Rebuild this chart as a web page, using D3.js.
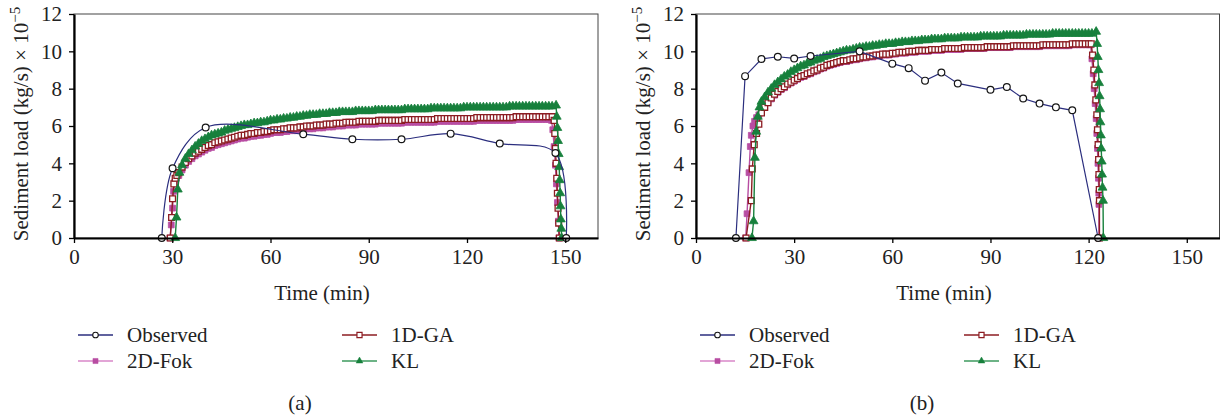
<!DOCTYPE html>
<html>
<head>
<meta charset="utf-8">
<script src="https://cdn.jsdelivr.net/npm/d3@7"></script>
<style>
    body { margin: 0; background: #fff; }
    svg text { font-family: "Liberation Serif", "Times New Roman", serif; fill: #222; }
</style>
</head>
<body>
<svg id="chart" width="1221" height="417"></svg>
<script>
// Tick labels
let xTicks = [0, 30, 60, 90, 120, 150];
let yTicks = [0, 2, 4, 6, 8, 10, 12];
let seriesNames = ["Observed", "1D-GA", "2D-Fok", "KL"];

// ---- Panel (a) ----
let obsATime = [26.8, 30.1, 40.2, 70, 85, 100, 115, 130, 147, 150.3];
let obsAVals = [0, 3.74, 5.92, 5.56, 5.29, 5.29, 5.59, 5.06, 4.55, 0];

// 1D-GA: rise points, one value per minute from gaAStart, fall points
let gaARise = [[29.4, 0], [29.8, 1.1], [30.1, 2.1], [30.5, 2.9], [30.9, 3.2], [31.4, 3.35]];
let gaAStart = 32;
let gaAVals = [
    3.5, 3.8, 4.05, 4.25, 4.4, 4.55, 4.65, 4.75, 4.85, 4.95,
    5.0, 5.1, 5.15, 5.2, 5.25, 5.3, 5.35, 5.4, 5.45, 5.5,
    5.5, 5.55, 5.6, 5.6, 5.65, 5.65, 5.7, 5.7, 5.75, 5.8,
    5.8, 5.8, 5.85, 5.85, 5.9, 5.9, 5.9, 5.95, 5.95, 6.0,
    6.0, 6.0, 6.05, 6.05, 6.05, 6.1, 6.1, 6.1, 6.15, 6.15,
    6.15, 6.2, 6.2, 6.2, 6.2, 6.25, 6.25, 6.25, 6.25, 6.25,
    6.25, 6.3, 6.3, 6.3, 6.3, 6.3, 6.3, 6.3, 6.3, 6.35,
    6.35, 6.35, 6.35, 6.35, 6.35, 6.35, 6.35, 6.35, 6.35, 6.4,
    6.4, 6.4, 6.4, 6.4, 6.4, 6.4, 6.4, 6.4, 6.4, 6.4,
    6.4, 6.45, 6.45, 6.45, 6.45, 6.45, 6.45, 6.45, 6.45, 6.45,
    6.45, 6.45, 6.45, 6.5, 6.5, 6.5, 6.5, 6.5, 6.5, 6.5,
    6.5, 6.5, 6.5, 6.5, 6.5
];
let gaAFall = [[146.6, 6.3], [146.8, 5.6], [147.0, 4.8], [147.2, 4.0], [147.4, 3.2], [147.6, 2.4], [147.8, 1.6], [148.0, 0.8], [148.2, 0]];

let fokARise = [[29.3, 0], [29.7, 0.7], [30.1, 1.6], [30.4, 2.5], [30.8, 3.0], [31.3, 3.2]];
let fokAStart = 32;
let fokAVals = [
    3.35, 3.65, 3.9, 4.1, 4.25, 4.4, 4.5, 4.6, 4.7, 4.8,
    4.85, 4.95, 5.0, 5.05, 5.1, 5.15, 5.2, 5.25, 5.3, 5.35,
    5.35, 5.4, 5.45, 5.45, 5.5, 5.5, 5.55, 5.55, 5.6, 5.65,
    5.65, 5.65, 5.7, 5.7, 5.75, 5.75, 5.75, 5.8, 5.8, 5.85,
    5.85, 5.85, 5.9, 5.9, 5.9, 5.95, 5.95, 5.95, 6.0, 6.0,
    6.0, 6.05, 6.05, 6.05, 6.05, 6.1, 6.1, 6.1, 6.1, 6.1,
    6.1, 6.15, 6.15, 6.15, 6.15, 6.15, 6.15, 6.15, 6.15, 6.2,
    6.2, 6.2, 6.2, 6.2, 6.2, 6.2, 6.2, 6.2, 6.2, 6.25,
    6.25, 6.25, 6.25, 6.25, 6.25, 6.25, 6.25, 6.25, 6.25, 6.25,
    6.25, 6.3, 6.3, 6.3, 6.3, 6.3, 6.3, 6.3, 6.3, 6.3,
    6.3, 6.3, 6.3, 6.35, 6.35, 6.35, 6.35, 6.35, 6.35, 6.35,
    6.35, 6.35, 6.35, 6.35
];
let fokAFall = [[145.8, 6.3], [146.2, 5.8], [146.6, 4.9], [147.0, 3.9], [147.3, 2.9], [147.6, 1.9], [147.9, 0.9], [148.1, 0]];

let klARise = [[30.9, 0], [31.3, 1.1], [31.7, 2.6], [32.2, 3.5]];
let klAStart = 33;
let klAVals = [
    3.9, 4.25, 4.5, 4.7, 4.9, 5.05, 5.2, 5.3, 5.4, 5.5,
    5.55, 5.6, 5.65, 5.75, 5.8, 5.85, 5.9, 5.95, 6.0, 6.05,
    6.05, 6.1, 6.15, 6.15, 6.2, 6.2, 6.25, 6.3, 6.3, 6.35,
    6.35, 6.4, 6.4, 6.45, 6.45, 6.5, 6.5, 6.55, 6.55, 6.6,
    6.6, 6.6, 6.65, 6.65, 6.65, 6.7, 6.7, 6.7, 6.75, 6.75,
    6.75, 6.75, 6.75, 6.8, 6.8, 6.8, 6.8, 6.8, 6.8, 6.85,
    6.85, 6.85, 6.85, 6.85, 6.85, 6.85, 6.85, 6.85, 6.9, 6.9,
    6.9, 6.9, 6.9, 6.9, 6.9, 6.9, 6.95, 6.95, 6.95, 6.95,
    6.95, 6.95, 6.95, 6.95, 6.95, 6.95, 7.0, 7.0, 7.0, 7.0,
    7.0, 7.0, 7.0, 7.0, 7.0, 7.0, 7.0, 7.0, 7.0, 7.0,
    7.05, 7.05, 7.05, 7.05, 7.05, 7.05, 7.05, 7.05, 7.05, 7.05,
    7.05, 7.05, 7.05, 7.05
];
let klAFall = [[147.2, 7.1], [147.4, 6.5], [147.6, 5.9], [147.8, 5.2], [148.0, 4.5], [148.15, 3.8], [148.3, 3.1], [148.45, 2.4], [148.55, 1.7], [148.65, 1.0], [148.8, 0.5], [148.9, 0]];

// ---- Panel (b) ----
let obsBTime = [12.2, 15, 20, 25, 30, 35, 50, 60, 65, 70, 75, 80, 90, 95, 100, 105, 110, 115, 122.9];
let obsBVals = [0, 8.67, 9.59, 9.71, 9.62, 9.75, 10.0, 9.34, 9.1, 8.43, 8.86, 8.28, 7.94, 8.09, 7.47, 7.2, 7.0, 6.84, 0];

let gaBRise = [[15.3, 0], [16.9, 2.0], [17.2, 3.7], [17.8, 5.0], [18.5, 5.6], [19.2, 6.1]];
let gaBStart = 20;
let gaBVals = [
    6.7, 7.0, 7.25, 7.5, 7.7, 7.85, 8.0, 8.1, 8.25, 8.35,
    8.45, 8.55, 8.65, 8.7, 8.8, 8.85, 8.95, 9.0, 9.1, 9.15,
    9.25, 9.3, 9.35, 9.4, 9.45, 9.5, 9.5, 9.55, 9.6, 9.6,
    9.65, 9.7, 9.7, 9.75, 9.75, 9.8, 9.8, 9.85, 9.85, 9.85,
    9.9, 9.9, 9.95, 9.95, 9.95, 10.0, 10.0, 10.0, 10.05, 10.05,
    10.05, 10.05, 10.1, 10.1, 10.1, 10.1, 10.15, 10.15, 10.15, 10.15,
    10.15, 10.15, 10.2, 10.2, 10.2, 10.2, 10.2, 10.2, 10.2, 10.25,
    10.25, 10.25, 10.25, 10.25, 10.25, 10.25, 10.25, 10.3, 10.3, 10.3,
    10.3, 10.3, 10.3, 10.3, 10.3, 10.3, 10.35, 10.35, 10.35, 10.35,
    10.35, 10.35, 10.35, 10.35, 10.35, 10.4, 10.4, 10.4, 10.4, 10.4,
    10.4
];
let gaBFall = [[120.8, 10.4], [121.2, 9.8], [121.6, 9.0], [121.9, 8.2], [122.2, 7.4], [122.5, 6.6], [122.7, 5.8], [122.9, 5.0], [123.05, 4.2], [123.15, 3.4], [123.25, 2.6], [123.3, 2.0], [123.3, 0]];

let fokBRise = [[15.2, 0], [15.6, 1.3], [16.2, 3.5], [16.6, 4.9], [16.9, 5.5], [17.4, 6.0], [17.9, 6.25], [18.5, 6.45], [19.2, 6.6]];
let fokBStart = 20;
let fokBVals = [
    6.8, 7.05, 7.25, 7.45, 7.65, 7.8, 7.95, 8.05, 8.2, 8.3,
    8.4, 8.5, 8.6, 8.65, 8.75, 8.8, 8.9, 8.95, 9.05, 9.1,
    9.2, 9.25, 9.3, 9.35, 9.4, 9.45, 9.45, 9.5, 9.55, 9.55,
    9.6, 9.65, 9.65, 9.7, 9.7, 9.75, 9.75, 9.8, 9.8, 9.8,
    9.85, 9.85, 9.9, 9.9, 9.9, 9.95, 9.95, 9.95, 10.0, 10.0,
    10.0, 10.0, 10.05, 10.05, 10.05, 10.05, 10.1, 10.1, 10.1, 10.1,
    10.1, 10.1, 10.15, 10.15, 10.15, 10.15, 10.15, 10.15, 10.15, 10.2,
    10.2, 10.2, 10.2, 10.2, 10.2, 10.2, 10.2, 10.25, 10.25, 10.25,
    10.25, 10.25, 10.25, 10.25, 10.25, 10.25, 10.3, 10.3, 10.3, 10.3,
    10.3, 10.3, 10.3, 10.3, 10.3, 10.35, 10.35, 10.35, 10.35, 10.35,
    10.35
];
let fokBFall = [[120.6, 10.35], [121.0, 9.6], [121.4, 8.8], [121.7, 8.0], [122.0, 7.2], [122.3, 6.4], [122.5, 5.6], [122.7, 4.8], [122.85, 4.0], [123.0, 3.2], [123.1, 2.4], [123.15, 1.8], [123.15, 0]];

let klBRise = [[17.1, 0], [17.6, 0.9], [18.0, 4.3], [18.4, 5.7], [18.9, 6.5], [19.4, 7.0]];
let klBStart = 20;
let klBVals = [
    7.3, 7.55, 7.8, 8.0, 8.2, 8.35, 8.5, 8.65, 8.75, 8.9,
    9.0, 9.1, 9.2, 9.25, 9.35, 9.4, 9.5, 9.55, 9.6, 9.7,
    9.75, 9.8, 9.85, 9.9, 9.95, 10.0, 10.05, 10.05, 10.1, 10.15,
    10.2, 10.2, 10.25, 10.25, 10.3, 10.3, 10.35, 10.35, 10.4, 10.4,
    10.4, 10.45, 10.45, 10.5, 10.5, 10.5, 10.55, 10.55, 10.55, 10.6,
    10.6, 10.6, 10.65, 10.65, 10.65, 10.65, 10.7, 10.7, 10.7, 10.7,
    10.7, 10.75, 10.75, 10.75, 10.75, 10.75, 10.75, 10.8, 10.8, 10.8,
    10.8, 10.8, 10.8, 10.8, 10.85, 10.85, 10.85, 10.85, 10.85, 10.85,
    10.85, 10.9, 10.9, 10.9, 10.9, 10.9, 10.9, 10.9, 10.9, 10.95,
    10.95, 10.95, 10.95, 10.95, 10.95, 10.95, 10.95, 10.95, 10.95, 10.95,
    10.95, 10.95
];
let klBFall = [[122.3, 11.05], [122.6, 10.4], [122.8, 9.7], [123.0, 9.0], [123.2, 8.3], [123.35, 7.6], [123.5, 6.9], [123.6, 6.2], [123.75, 5.5], [123.85, 4.8], [124.0, 4.1], [124.1, 3.4], [124.25, 2.7], [124.4, 2.0], [124.5, 0]];

// colours
let colObs = "#2b2e7e";
let colGA = "#8c1c22";
let colFok = "#b84da2";
let colKL = "#17803c";

function buildSeries(rise, start, vals, fall) {
    return rise.concat(vals.map((v, i) => [start + i, v]), fall);
}

function zip(times, vals) {
    return times.map((t, i) => [t, vals[i]]);
}

let panels = [
    {
        left: 74, right: 598, tag: "(a)", smooth: true,
        obs: zip(obsATime, obsAVals),
        ga: buildSeries(gaARise, gaAStart, gaAVals, gaAFall),
        fok: buildSeries(fokARise, fokAStart, fokAVals, fokAFall),
        kl: buildSeries(klARise, klAStart, klAVals, klAFall),
    },
    {
        left: 696, right: 1219.5, tag: "(b)", smooth: false,
        obs: zip(obsBTime, obsBVals),
        ga: buildSeries(gaBRise, gaBStart, gaBVals, gaBFall),
        fok: buildSeries(fokBRise, fokBStart, fokBVals, fokBFall),
        kl: buildSeries(klBRise, klBStart, klBVals, klBFall),
    },
];

let plotTop = 14;
let plotBottom = 238;
let fontSize = "21px";
let svg = d3.select("#chart");

function drawMarkers(g, data, x, y, kind) {
    if (kind == "circle") {
        g.selectAll(null).data(data).enter().append("circle")
            .attr("cx", (d) => x(d[0]))
            .attr("cy", (d) => y(d[1]))
            .attr("r", 3.4)
            .attr("fill", "#fff")
            .attr("stroke", "#151515")
            .attr("stroke-width", 1.2);
        return;
    }
    let sym = d3.symbol()
        .type(kind == "tri" ? d3.symbolTriangle : d3.symbolSquare)
        .size(kind == "tri" ? 34 : 34);
    let fill = kind == "open" ? "#fff" : kind == "tri" ? colKL : colFok;
    let stroke = kind == "open" ? colGA : kind == "tri" ? colKL : colFok;
    g.selectAll(null).data(data).enter().append("path")
        .attr("transform", (d) => `translate(${x(d[0])},${y(d[1])})`)
        .attr("d", sym)
        .attr("fill", fill)
        .attr("stroke", stroke)
        .attr("stroke-width", kind == "open" ? 1.3 : 0.8);
}

panels.forEach(function (p) {
    let g = svg.append("g");
    let x = d3.scaleLinear().domain([0, 160]).range([p.left, p.right]);
    let y = d3.scaleLinear().domain([0, 12]).range([plotBottom, plotTop]);

    // frame (top and right edges)
    g.append("rect")
        .attr("x", p.left).attr("y", plotTop)
        .attr("width", p.right - p.left).attr("height", plotBottom - plotTop)
        .attr("fill", "none").attr("stroke", "#444").attr("stroke-width", 1);

    let line = d3.line().x((d) => x(d[0])).y((d) => y(d[1]));
    let obsLine = d3.line().x((d) => x(d[0])).y((d) => y(d[1]))
        .curve(p.smooth ? d3.curveCatmullRom.alpha(0.5) : d3.curveLinear);

    // 2D-Fok
    g.append("path").datum(p.fok).attr("d", line)
        .attr("fill", "none").attr("stroke", colFok).attr("stroke-width", 1.4);
    drawMarkers(g, p.fok, x, y, "fill");
    // 1D-GA
    g.append("path").datum(p.ga).attr("d", line)
        .attr("fill", "none").attr("stroke", colGA).attr("stroke-width", 1.4);
    drawMarkers(g, p.ga, x, y, "open");
    // KL
    g.append("path").datum(p.kl).attr("d", line)
        .attr("fill", "none").attr("stroke", colKL).attr("stroke-width", 1.4);
    drawMarkers(g, p.kl, x, y, "tri");
    // Observed
    g.append("path").datum(p.obs).attr("d", obsLine)
        .attr("fill", "none").attr("stroke", colObs).attr("stroke-width", 1.2);
    drawMarkers(g, p.obs, x, y, "circle");

    // axes
    let xAxis = d3.axisBottom(x).tickValues(xTicks).tickSize(5).tickSizeOuter(0).tickPadding(6);
    let yAxis = d3.axisLeft(y).tickValues(yTicks).tickSize(5).tickSizeOuter(0).tickPadding(7);

    let gx = g.append("g").attr("transform", `translate(0,${plotBottom})`).call(xAxis);
    let gy = g.append("g").attr("transform", `translate(${p.left},0)`).call(yAxis);
    [gx, gy].forEach(function (a) {
        a.select(".domain").attr("stroke", "#000").attr("stroke-width", 2.2);
        a.selectAll(".tick line").attr("stroke", "#000").attr("stroke-width", 1.3);
        a.selectAll(".tick text").style("font-size", fontSize)
            .style("font-family", "'Liberation Serif', serif").attr("fill", "#222");
    });

    // axis titles
    g.append("text")
        .attr("x", p.left + 248).attr("y", 300)
        .attr("text-anchor", "middle")
        .style("font-size", fontSize)
        .text("Time (min)");

    let yt = g.append("text")
        .attr("transform", `translate(${p.left - 46},124) rotate(-90)`)
        .attr("text-anchor", "middle")
        .style("font-size", fontSize);
    yt.append("tspan").text("Sediment load (kg/s) × 10");
    yt.append("tspan").attr("dy", -8).style("font-size", "15px").text("−5");

    // legend
    let legend = [
        { name: seriesNames[0], dx: 4, row: 0, kind: "circle", color: colObs },
        { name: seriesNames[1], dx: 268, row: 0, kind: "open", color: colGA },
        { name: seriesNames[2], dx: 4, row: 1, kind: "fill", color: "#d987c8" },
        { name: seriesNames[3], dx: 268, row: 1, kind: "tri", color: "#3d9a5e" },
    ];
    legend.forEach(function (l) {
        let ly = 335 + l.row * 26;
        let lx = p.left + l.dx;
        g.append("line")
            .attr("x1", lx).attr("x2", lx + 35)
            .attr("y1", ly).attr("y2", ly)
            .attr("stroke", l.color).attr("stroke-width", 1.4);
        let mg = g.append("g");
        if (l.kind == "circle") {
            mg.append("circle").attr("cx", lx + 17.5).attr("cy", ly).attr("r", 2.8)
                .attr("fill", "#fff").attr("stroke", "#151515").attr("stroke-width", 1.1);
        } else {
            let sym = d3.symbol().type(l.kind == "tri" ? d3.symbolTriangle : d3.symbolSquare)
                .size(l.kind == "tri" ? 20 : 26);
            mg.append("path").attr("transform", `translate(${lx + 17.5},${ly})`).attr("d", sym)
                .attr("fill", l.kind == "open" ? "#fff" : l.kind == "tri" ? colKL : colFok)
                .attr("stroke", l.kind == "open" ? colGA : l.kind == "tri" ? colKL : colFok)
                .attr("stroke-width", l.kind == "open" ? 1.2 : 0.5);
        }
        g.append("text")
            .attr("x", lx + 49).attr("y", ly + 7)
            .style("font-size", fontSize)
            .text(l.name);
    });

    g.append("text")
        .attr("x", p.left + 226).attr("y", 410)
        .attr("text-anchor", "middle")
        .style("font-size", fontSize)
        .text(p.tag);
});
</script>
</body>
</html>
